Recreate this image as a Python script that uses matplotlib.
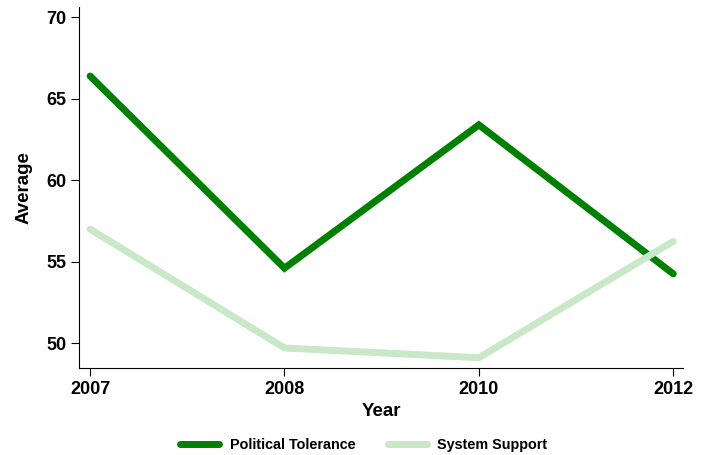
import matplotlib
matplotlib.use("Agg")
import matplotlib.pyplot as plt
from matplotlib.lines import Line2D

years = ["2007", "2008", "2010", "2012"]
political_tolerance = [66.4, 54.6, 63.4, 54.25]
system_support = [57.0, 49.7, 49.1, 56.25]
yticks = [50, 55, 60, 65, 70]

plt.rcParams['font.family'] = ['Liberation Sans', 'DejaVu Sans']
plt.rcParams['font.weight'] = 'bold'

fig = plt.figure(figsize=(7.03, 4.55), dpi=100)
ax = fig.add_axes([79/703, 1-368/455, (683-79)/703, (368-7)/455])

x = list(range(len(years)))
ax.plot(x, political_tolerance, color='#008000', lw=5, solid_capstyle='round', solid_joinstyle='miter', label='Political Tolerance')
ax.plot(x, system_support, color='#c9e8c8', lw=5, solid_capstyle='round', solid_joinstyle='miter', label='System Support')

ax.set_xlim(-0.057, 3.05)
ax.set_ylim(48.47, 70.64)
ax.set_xticks(x)
ax.set_xticklabels(years, fontsize=13, fontweight='bold')
ax.set_yticks(yticks)
ax.set_yticklabels([str(v) for v in yticks], fontsize=13, fontweight='bold')
ax.spines['top'].set_visible(False)
ax.spines['right'].set_visible(False)
ax.tick_params(axis='both', length=5.5, width=0.8, pad=3.5)
ax.set_xlabel('Year', fontsize=13.5, fontweight='bold', labelpad=4)
ax.set_ylabel('Average', fontsize=13.5, fontweight='bold', labelpad=10)

handles = [Line2D([0], [0], color='#008000', lw=5, solid_capstyle='round'),
           Line2D([0], [0], color='#c9e8c8', lw=5, solid_capstyle='round')]
fig.legend(handles, ['Political Tolerance', 'System Support'], loc='center',
           bbox_to_anchor=(364/703, 1-445/455), ncol=2, frameon=False,
           prop={'size': 10.4, 'weight': 'bold'}, handlelength=2.7,
           handletextpad=0.7, columnspacing=2.3)

fig.savefig('out.png', dpi=100)
